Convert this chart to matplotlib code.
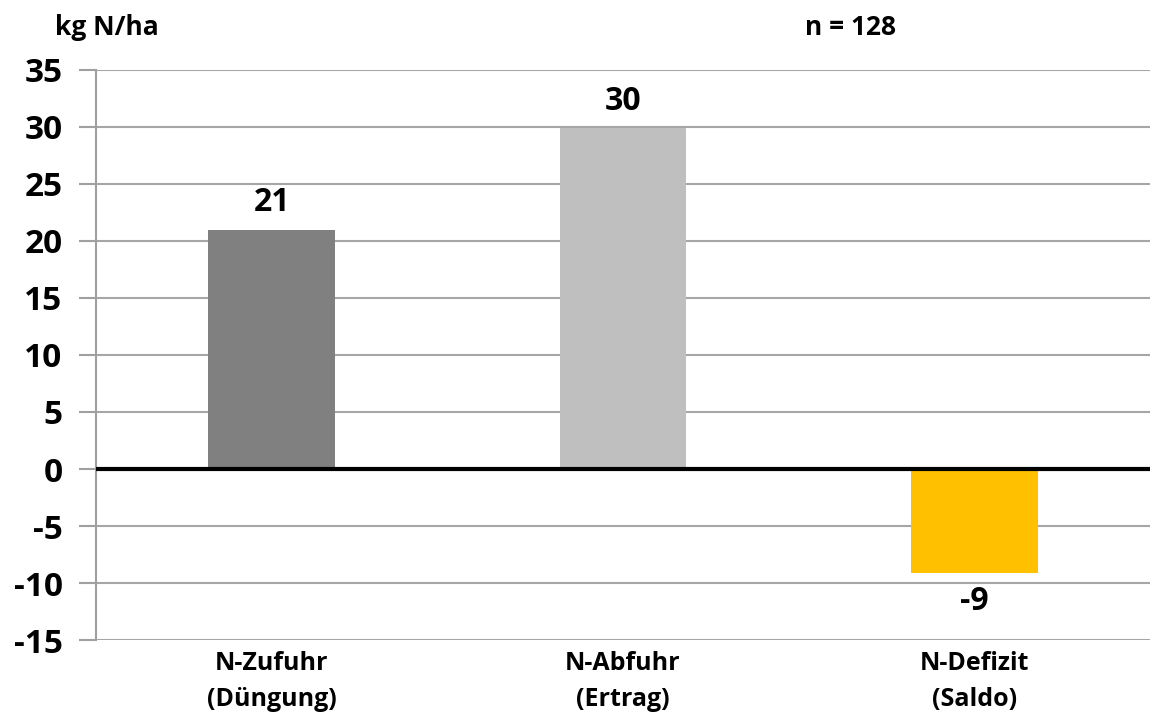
import matplotlib
matplotlib.use("Agg")
import matplotlib.pyplot as plt

# Daten
kategorien = ["N-Zufuhr\n(Düngung)", "N-Abfuhr\n(Ertrag)", "N-Defizit\n(Saldo)"]
werte = [21.0, 29.9, -9.1]
beschriftung = ["21", "30", "-9"]
farben = ["#808080", "#bfbfbf", "#ffc000"]
y_ticks = [-15, -10, -5, 0, 5, 10, 15, 20, 25, 30, 35]

plt.rcParams['font.family'] = ['Open Sans', 'DejaVu Sans']
gewicht = 'bold'

fig = plt.figure(figsize=(11.52, 7.2), dpi=100)
ax = fig.add_axes([0.0833, 0.111, 0.915, 0.792])

x = range(len(kategorien))
ax.bar(x, werte, width=0.36, color=farben, zorder=2)

ax.set_xlim(-0.5, 2.5)
ax.set_ylim(-15, 35)
ax.set_yticks(y_ticks)
ax.set_yticklabels([str(t) for t in y_ticks], fontsize=24, fontweight=gewicht)
ax.set_xticks(list(x))
ax.set_xticklabels(kategorien, fontsize=18, fontweight=gewicht, linespacing=1.55)
ax.tick_params(axis='x', length=0, pad=8)
ax.tick_params(axis='y', length=12, width=1.5, color='#a0a0a0', pad=12)

ax.grid(axis='y', color='#a6a6a6', linewidth=1.5, zorder=0)
ax.axhline(0, color='black', linewidth=3, zorder=3)

for s in ['top', 'right', 'bottom']:
    ax.spines[s].set_visible(False)
ax.spines['left'].set_color('#a0a0a0')
ax.spines['left'].set_linewidth(1.5)

for i, (w, t) in enumerate(zip(werte, beschriftung)):
    if w >= 0:
        ax.text(i, w + 0.9, t, ha='center', va='bottom', fontsize=23, fontweight=gewicht)
    else:
        ax.text(i, w - 1.1, t, ha='center', va='top', fontsize=23, fontweight=gewicht)

fig.text(0.093, 0.962, "kg N/ha", ha='center', va='center', fontsize=19, fontweight=gewicht)
fig.text(0.738, 0.962, "n = 128", ha='center', va='center', fontsize=19, fontweight=gewicht)

fig.savefig("out.png", dpi=100)
